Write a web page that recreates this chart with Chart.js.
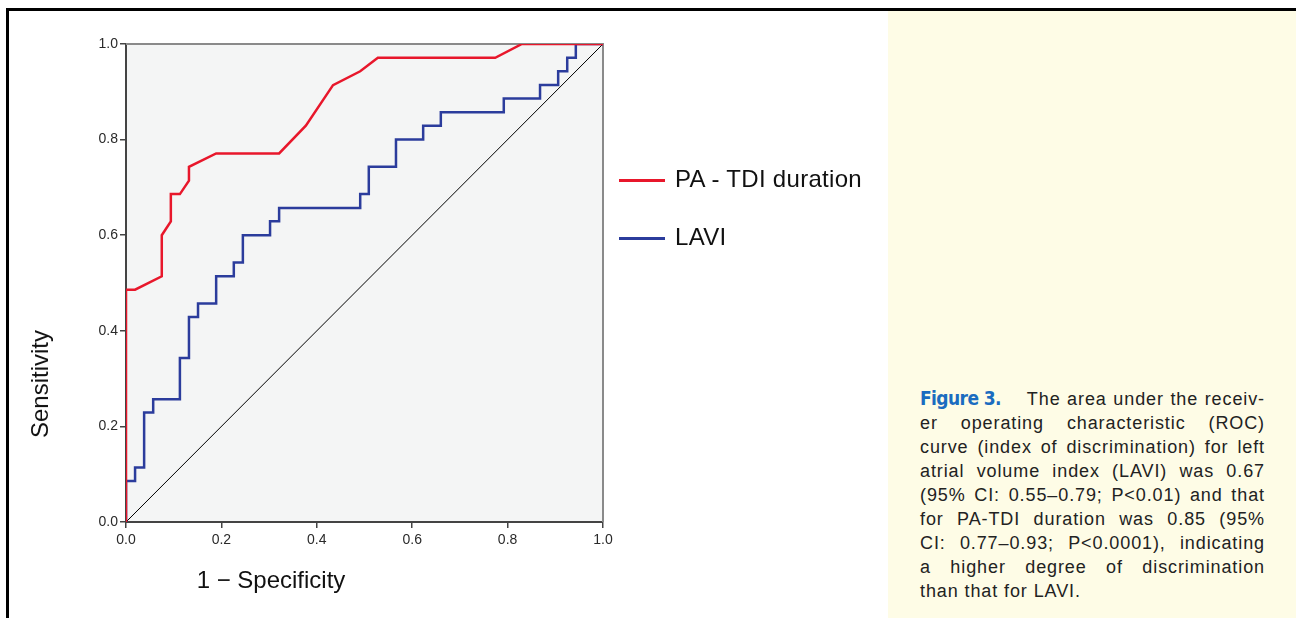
<!DOCTYPE html>
<html>
<head>
<meta charset="utf-8">
<script src="https://cdn.jsdelivr.net/npm/chart.js@4"></script>
<style>
  body { margin: 0; background: #fff; font-family: "Liberation Sans", Arial, sans-serif; }
  #wrap { position: relative; width: 1296px; height: 618px; overflow: hidden; }
  #chart { position: absolute; left: 0; top: 0; }
  .rule-top { position: absolute; left: 6px; top: 8px; width: 1290px; height: 3px; background: #000; }
  .rule-left { position: absolute; left: 6px; top: 8px; width: 3px; height: 610px; background: #000; }
  .panel { position: absolute; left: 888px; top: 11px; width: 408px; height: 607px; background: #fefce6; }
  .caption { position: absolute; left: 920px; top: 386px; width: 345px; font-size: 18px; line-height: 24px; letter-spacing: 0.9px; color: #222; }
  .caption div { text-align: justify; text-align-last: justify; white-space: nowrap; }
  .caption div.last { text-align-last: left; }
  .fig { display: inline-block; font-family: "Liberation Sans Narrow", "DejaVu Sans Condensed", "Liberation Sans", sans-serif; font-stretch: condensed; font-weight: bold; font-size: 19px; color: #1a6cc0; letter-spacing: -0.6px; }
  .axis-title { position: absolute; font-size: 24px; color: #111; white-space: nowrap; }
  #legend { position: absolute; left: 619px; top: 0; }
  .leg { position: absolute; left: 0; white-space: nowrap; font-size: 24px; color: #111; }
  .leg span.swatch { position: absolute; left: 0; width: 46px; height: 3px; }
  .leg span.txt { position: absolute; left: 56px; letter-spacing: 0.3px; }
</style>
</head>
<body>
<div id="wrap">
  <canvas id="chart" width="888" height="618"></canvas>
  <div class="panel"></div>
  <div class="rule-top"></div>
  <div class="rule-left"></div>
  <div class="axis-title" id="ytitle" style="left:40px; top:384px; transform: translate(-50%,-50%) rotate(-90deg);">Sensitivity</div>
  <div class="axis-title" id="xtitle" style="left:271px; top:580px; transform: translate(-50%,-50%);">1 − Specificity</div>
  <div id="legend"></div>
  <div class="caption">
    <div><span class="fig">Figure 3.</span>&nbsp;&nbsp;&nbsp; The area under the receiv-</div>
    <div>er operating characteristic (ROC)</div>
    <div>curve (index of discrimination) for left</div>
    <div>atrial volume index (LAVI) was 0.67</div>
    <div>(95% CI: 0.55–0.79; P&lt;0.01) and that</div>
    <div>for PA-TDI duration was 0.85 (95%</div>
    <div>CI: 0.77–0.93; P&lt;0.0001), indicating</div>
    <div>a higher degree of discrimination</div>
    <div class="last">than that for LAVI.</div>
  </div>
</div>
<script>
  // series names and colours
  var seriesNames = ['PA - TDI duration', 'LAVI'];
  var seriesColors = ['#e8172b', '#2b3c9c'];

  // PA - TDI duration curve (1 - specificity, sensitivity)
  var paFpr = [0, 0, 0.019, 0.075, 0.075, 0.094, 0.094, 0.113, 0.132, 0.132, 0.189, 0.321, 0.377, 0.434, 0.491, 0.528, 0.774, 0.830, 1];
  var paTpr = [0, 0.486, 0.486, 0.514, 0.600, 0.629, 0.686, 0.686, 0.714, 0.743, 0.771, 0.771, 0.829, 0.914, 0.943, 0.971, 0.971, 1, 1];

  // LAVI curve, step points
  var laviFpr = [0, 0, 0.019, 0.038, 0.057, 0.113, 0.132, 0.151, 0.189, 0.226, 0.245, 0.302, 0.321, 0.491, 0.509, 0.566, 0.623, 0.660, 0.792, 0.868, 0.906, 0.925, 0.943, 1];
  var laviTpr = [0, 0.086, 0.114, 0.229, 0.257, 0.343, 0.429, 0.457, 0.514, 0.543, 0.600, 0.629, 0.657, 0.686, 0.743, 0.800, 0.829, 0.857, 0.886, 0.914, 0.943, 0.971, 1, 1];

  // reference line
  var refX = [0, 1];
  var refY = [0, 1];

  var tickValues = [0, 0.2, 0.4, 0.6, 0.8, 1.0];

  function toPoints(xs, ys) {
    return xs.map(function(x, i) {
      return { x: x, y: ys[i] };
    });
  }

  //fills plot background and draws the grey top / right frame
  var frame = {
    id: 'frame',
    beforeDraw: function(chart) {
      var a = chart.chartArea, ctx = chart.ctx;
      ctx.save();
      ctx.fillStyle = '#f4f5f5';
      ctx.fillRect(a.left, a.top, a.right - a.left, a.bottom - a.top);
      ctx.restore();
    },
    beforeDatasetsDraw: function(chart) {
      var a = chart.chartArea, ctx = chart.ctx;
      ctx.save();
      ctx.strokeStyle = '#8a8a8a';
      ctx.lineWidth = 2;
      ctx.beginPath();
      ctx.moveTo(a.left, a.top);
      ctx.lineTo(a.right, a.top);
      ctx.lineTo(a.right, a.bottom);
      ctx.stroke();
      ctx.restore();
    }
  };

  var tickFont = { family: 'Liberation Sans', size: 14 };

  var chart = new Chart(document.getElementById('chart'), {
    type: 'line',
    data: {
      datasets: [{
        label: seriesNames[0],
        data: toPoints(paFpr, paTpr),
        borderColor: seriesColors[0],
        borderWidth: 2.5
      }, {
        label: seriesNames[1],
        data: toPoints(laviFpr, laviTpr),
        borderColor: seriesColors[1],
        borderWidth: 2.5,
        stepped: 'before'
      }, {
        label: 'reference',
        data: toPoints(refX, refY),
        borderColor: '#000',
        borderWidth: 1
      }]
    },
    options: {
      responsive: false,
      animation: false,
      parsing: false,
      elements: {
        point: { radius: 0 },
        line: { tension: 0 }
      },
      layout: {
        padding: { left: 0, top: 44, right: 285, bottom: 66 }
      },
      plugins: {
        legend: { display: false },
        tooltip: { enabled: false }
      },
      scales: {
        x: {
          type: 'linear',
          min: 0,
          max: 1,
          afterFit: function(scale) { scale.height = 30; },
          afterBuildTicks: function(scale) {
            scale.ticks = tickValues.map(function(v) { return { value: v }; });
          },
          ticks: {
            color: '#2a2a2a',
            font: tickFont,
            padding: 4,
            maxRotation: 0,
            callback: function(v) { return v.toFixed(1); }
          },
          grid: { drawOnChartArea: false, tickLength: 6, color: '#444', lineWidth: 1.5 },
          border: { color: '#444', width: 2 }
        },
        y: {
          type: 'linear',
          min: 0,
          max: 1,
          afterFit: function(scale) { scale.width = 126; },
          afterBuildTicks: function(scale) {
            scale.ticks = tickValues.map(function(v) { return { value: v }; });
          },
          ticks: {
            color: '#2a2a2a',
            font: tickFont,
            padding: 2,
            callback: function(v) { return v.toFixed(1); }
          },
          grid: { drawOnChartArea: false, tickLength: 6, color: '#444', lineWidth: 1.5 },
          border: { color: '#444', width: 2 }
        }
      }
    },
    plugins: [frame]
  });

  // legend built from the chart's own datasets
  var legend = document.getElementById('legend');
  var legendTops = [180, 238];
  chart.data.datasets.slice(0, 2).forEach(function(ds, i) {
    var row = document.createElement('div');
    row.className = 'leg';
    row.style.top = legendTops[i] + 'px';
    row.innerHTML = '<span class="swatch" style="background:' + ds.borderColor + ';top:-1px"></span>' +
      '<span class="txt" style="top:-15px">' + ds.label + '</span>';
    legend.appendChild(row);
  });
</script>
</body>
</html>
